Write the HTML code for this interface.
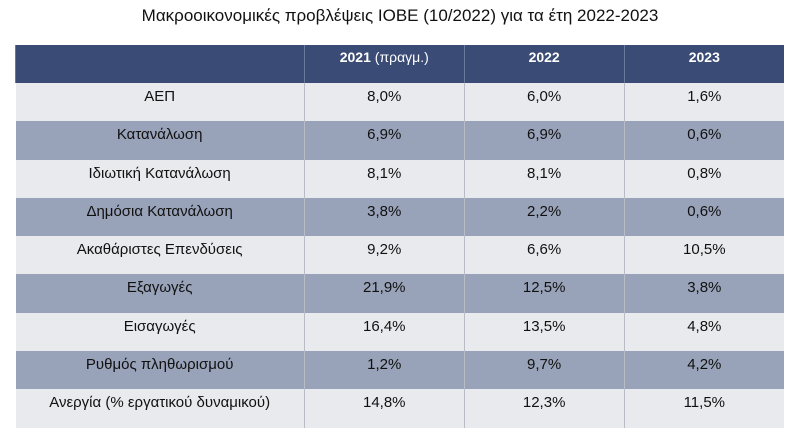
<!DOCTYPE html>
<html><head><meta charset="utf-8"><style>
body{margin:0;width:800px;height:447px;background:#fff;font-family:"Liberation Sans","DejaVu Sans",sans-serif;position:relative;overflow:hidden}
.t{position:absolute;top:6px;left:0;width:800px;text-align:center;font-size:17px;color:#111}
table{position:absolute;left:15px;top:45px;border-collapse:collapse;width:769px}
td{height:38.3px;padding:0;text-align:center;vertical-align:top;font-size:15px;color:#111;line-height:28px;border-left:1px solid #b8bcc6}
td:first-child{border-left:none}
tr.h td{background:#3a4b76;color:#fff;font-weight:bold;font-size:14px;height:38px;line-height:24px;border-left:1px solid #6a789a}
tr.l td{background:#e9eaee}
tr.d td{background:#98a2b8}
</style></head><body>
<div class="t">Μακροοικονομικές προβλέψεις ΙΟΒΕ (10/2022) για τα έτη 2022-2023</div>
<table>
<colgroup><col style="width:289px"><col style="width:160px"><col style="width:160px"><col style="width:160px"></colgroup>
<tr class="h"><td></td><td>2021 <span style="font-weight:normal">(πραγμ.)</span></td><td>2022</td><td>2023</td></tr>
<tr class="l"><td>ΑΕΠ</td><td>8,0%</td><td>6,0%</td><td>1,6%</td></tr>
<tr class="d"><td>Κατανάλωση</td><td>6,9%</td><td>6,9%</td><td>0,6%</td></tr>
<tr class="l"><td>Ιδιωτική Κατανάλωση</td><td>8,1%</td><td>8,1%</td><td>0,8%</td></tr>
<tr class="d"><td>Δημόσια Κατανάλωση</td><td>3,8%</td><td>2,2%</td><td>0,6%</td></tr>
<tr class="l"><td>Ακαθάριστες Επενδύσεις</td><td>9,2%</td><td>6,6%</td><td>10,5%</td></tr>
<tr class="d"><td>Εξαγωγές</td><td>21,9%</td><td>12,5%</td><td>3,8%</td></tr>
<tr class="l"><td>Εισαγωγές</td><td>16,4%</td><td>13,5%</td><td>4,8%</td></tr>
<tr class="d"><td>Ρυθμός πληθωρισμού</td><td>1,2%</td><td>9,7%</td><td>4,2%</td></tr>
<tr class="l"><td>Ανεργία (% εργατικού δυναμικού)</td><td>14,8%</td><td>12,3%</td><td>11,5%</td></tr>
</table>
</body></html>
